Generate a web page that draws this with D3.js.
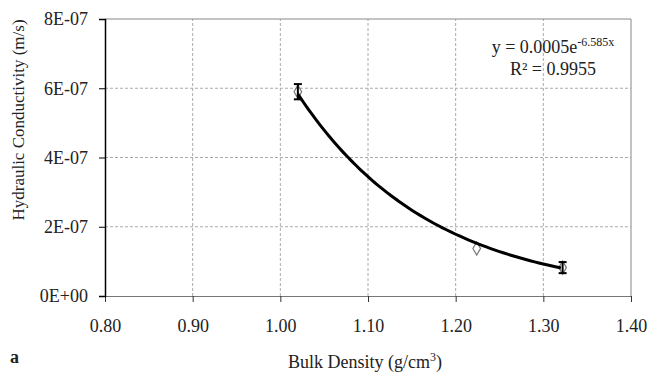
<!DOCTYPE html>
<html>
<head>
<meta charset="UTF-8">
<script src="https://cdn.jsdelivr.net/npm/d3@7"></script>
<style>
  body { margin: 0; background: #fff; }
  text { font-family: "Liberation Serif", "Times New Roman", serif; fill: #222; }
</style>
</head>
<body>
<script>
// data
var density = [1.02, 1.224, 1.322];
var conductivity = [5.9e-7, 1.37e-7, 0.82e-7];
var errors = [0.22e-7, 0, 0.16e-7];
var xTicks = [0.8, 0.9, 1.0, 1.1, 1.2, 1.3, 1.4];
var yTicks = [0, 2e-7, 4e-7, 6e-7, 8e-7];
// trendline y = a * exp(b x)
var trend = [0.000482, -6.585];

var width = 647, height = 381;
var svg = d3.select("body").append("svg")
    .attr("width", width)
    .attr("height", height);

var x = d3.scaleLinear().domain([0.8, 1.4]).range([105, 631]);
var y = d3.scaleLinear().domain([0, 8e-7]).range([296, 19]);

// gridlines
svg.append("g").selectAll("line")
    .data(yTicks.slice(1, 4))
  .enter().append("line")
    .attr("x1", x(0.8)).attr("x2", x(1.4))
    .attr("y1", function(d) { return y(d); })
    .attr("y2", function(d) { return y(d); })
    .attr("stroke", "#aaa").attr("stroke-dasharray", "3,2");
svg.append("g").selectAll("line")
    .data(xTicks.slice(1, 6))
  .enter().append("line")
    .attr("x1", function(d) { return x(d); })
    .attr("x2", function(d) { return x(d); })
    .attr("y1", y(0)).attr("y2", y(8e-7))
    .attr("stroke", "#aaa").attr("stroke-dasharray", "3,2");

// plot border (top, right)
svg.append("path")
    .attr("d", "M" + x(0.8) + "," + y(8e-7) + "H" + x(1.4) + "V" + y(0))
    .attr("fill", "none").attr("stroke", "#888");

// axes
var xAxis = svg.append("g")
    .attr("transform", "translate(0," + y(0) + ")")
    .call(d3.axisBottom(x).tickValues(xTicks).tickSize(6).tickPadding(17)
      .tickFormat(d3.format(".2f")));
xAxis.select(".domain").attr("stroke", "#777");
xAxis.selectAll(".tick line").attr("stroke", "#333");
xAxis.selectAll("text").attr("font-size", 18).attr("fill", "#222");

var yAxis = svg.append("g")
    .attr("transform", "translate(" + x(0.8) + ",0)")
    .call(d3.axisLeft(y).tickValues(yTicks).tickSize(6).tickPadding(11)
      .tickFormat(function(d) {
        if (d === 0) return "0E+00";
        return Math.round(d * 1e7) + "E-07";
      }));
yAxis.select(".domain").attr("stroke", "#000").attr("stroke-width", 1.5);
yAxis.selectAll("text").attr("font-size", 18).attr("fill", "#222");

// markers
svg.append("g").selectAll("path")
    .data(density)
  .enter().append("path")
    .attr("d", d3.symbol().type(d3.symbolDiamond).size(50))
    .attr("transform", function(d, i) {
      return "translate(" + x(d) + "," + y(conductivity[i]) + ")";
    })
    .attr("fill", "none").attr("stroke", "#777").attr("stroke-width", 1.2);

// error bars
var eb = svg.append("g").selectAll("g")
    .data(density.map(function(d, i) { return i; }).filter(function(i) { return errors[i] > 0; }))
  .enter().append("g").attr("stroke", "#000").attr("stroke-width", 2);
eb.append("line")
    .attr("x1", function(i) { return x(density[i]); })
    .attr("x2", function(i) { return x(density[i]); })
    .attr("y1", function(i) { return y(conductivity[i] - errors[i]); })
    .attr("y2", function(i) { return y(conductivity[i] + errors[i]); });
eb.append("line")
    .attr("x1", function(i) { return x(density[i]) - 4; })
    .attr("x2", function(i) { return x(density[i]) + 4; })
    .attr("y1", function(i) { return y(conductivity[i] + errors[i]); })
    .attr("y2", function(i) { return y(conductivity[i] + errors[i]); });
eb.append("line")
    .attr("x1", function(i) { return x(density[i]) - 4; })
    .attr("x2", function(i) { return x(density[i]) + 4; })
    .attr("y1", function(i) { return y(conductivity[i] - errors[i]); })
    .attr("y2", function(i) { return y(conductivity[i] - errors[i]); });

// trendline
var xs = d3.range(density[0], density[2] + 0.001, 0.005);
svg.append("path")
    .datum(xs)
    .attr("d", d3.line()
      .x(function(d) { return x(d); })
      .y(function(d) { return y(trend[0] * Math.exp(trend[1] * d)); })
      .curve(d3.curveBasis))
    .attr("fill", "none").attr("stroke", "#000").attr("stroke-width", 3);

// equation
var eq = svg.append("text").attr("x", 553).attr("y", 53)
    .attr("text-anchor", "middle").attr("font-size", 18);
eq.append("tspan").text("y = 0.0005e");
eq.append("tspan").attr("dy", -7).attr("font-size", 12).text("-6.585x");
svg.append("text").attr("x", 553).attr("y", 75)
    .attr("text-anchor", "middle").attr("font-size", 18).text("R² = 0.9955");

// axis titles
svg.append("text")
    .attr("transform", "translate(24,120) rotate(-90)")
    .attr("text-anchor", "middle").attr("font-size", 17)
    .text("Hydraulic Conductivity (m/s)");
var xt = svg.append("text").attr("x", 365).attr("y", 368)
    .attr("text-anchor", "middle").attr("font-size", 18);
xt.append("tspan").text("Bulk Density (g/cm");
xt.append("tspan").attr("dy", -7).attr("font-size", 12).text("3");
xt.append("tspan").attr("dy", 7).text(")");

svg.append("text").attr("x", 10).attr("y", 363)
    .attr("font-size", 18).attr("font-weight", "bold").text("a");
</script>
</body>
</html>
